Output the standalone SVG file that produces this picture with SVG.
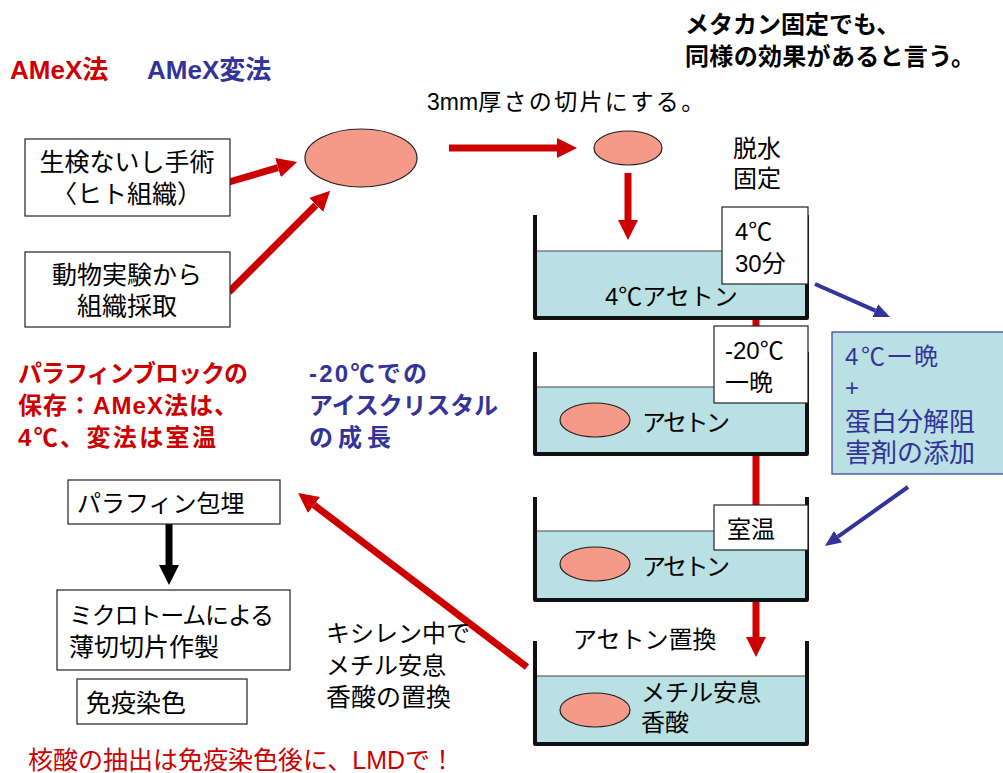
<svg xmlns="http://www.w3.org/2000/svg" width="1003" height="773" viewBox="0 0 1003 773">
<defs>
<style>
text{font-family:"Liberation Sans","Noto Sans CJK JP",sans-serif;font-size:24px;fill:#000}
.b{font-weight:bold}
.red{fill:#cc0000}
.blue{fill:#333399}
.box{fill:#fff;stroke:#222;stroke-width:1.2}
.fill{fill:#b9e0e3;stroke:#444;stroke-width:1}
.wall{fill:none;stroke:#111;stroke-width:4;stroke-linejoin:round}
.tissue{fill:#f59a88;stroke:#222;stroke-width:1.2}
.ra{stroke:#cc0000;stroke-width:7;fill:none;marker-end:url(#rh)}
.ka{stroke:#000;stroke-width:7;fill:none;marker-end:url(#kh)}
.ba{stroke:#333399;stroke-width:4;fill:none;marker-end:url(#bh)}
</style>
<marker id="rh" viewBox="0 0 20 20" refX="0" refY="10" markerWidth="20" markerHeight="20" markerUnits="userSpaceOnUse" orient="auto"><path d="M0,0 L20,10 L0,20 z" fill="#cc0000"/></marker>
<marker id="kh" viewBox="0 0 20 20" refX="0" refY="10" markerWidth="20" markerHeight="20" markerUnits="userSpaceOnUse" orient="auto"><path d="M0,0 L20,10 L0,20 z" fill="#000"/></marker>
<marker id="bh" viewBox="0 0 16 14" refX="0" refY="7" markerWidth="16" markerHeight="14" markerUnits="userSpaceOnUse" orient="auto"><path d="M0,0 L16,7 L0,14 z" fill="#333399"/></marker>
</defs>
<rect width="1003" height="773" fill="#fff"/>

<g id="connectors">
<line class="ra" x1="229" y1="182" x2="278" y2="167.6"/>
<line class="ra" x1="229" y1="292" x2="316" y2="205"/>
<line class="ra" x1="449" y1="148" x2="557" y2="148"/>
<line class="ra" x1="628" y1="173" x2="628" y2="220"/>
<line class="ra" x1="756" y1="318" x2="756" y2="637"/>
<line class="ra" x1="527" y1="667" x2="314" y2="505"/>
<line class="ka" x1="169" y1="524" x2="169" y2="565"/>
<line class="ba" x1="815" y1="284" x2="875.3" y2="310.6"/>
<line class="ba" x1="908" y1="487" x2="838" y2="536.7"/>
</g>

<g id="titles">
<text class="b red" x="10" y="79" style="font-size:26px">AMeX法</text>
<text class="b blue" x="147" y="79" style="font-size:26px">AMeX変法</text>
<text class="b" x="685" y="33">メタカン固定でも、</text>
<text class="b" x="685" y="65" textLength="290">同様の効果があると言う。</text>
<text x="427" y="110" style="font-size:23px">3mm<tspan textLength="226">厚さの切片にする。</tspan></text>
<text x="733" y="157">脱水</text>
<text x="733" y="187">固定</text>
</g>

<g id="biopsy">
<rect class="box" x="25" y="139" width="205" height="77"/>
<text x="127" y="171" text-anchor="middle" style="font-size:25px">生検ないし手術</text>
<text x="127" y="203" text-anchor="middle" style="font-size:25px">〈ヒト組織）</text>
</g>

<g id="animal">
<rect class="box" x="25" y="252" width="205" height="75"/>
<text x="127" y="284" text-anchor="middle" style="font-size:25px">動物実験から</text>
<text x="127" y="315" text-anchor="middle" style="font-size:25px">組織採取</text>
</g>

<g id="tissue1"><ellipse class="tissue" cx="361" cy="158" rx="56" ry="29"/></g>
<g id="tissue2"><ellipse class="tissue" cx="628" cy="148" rx="34" ry="17"/></g>

<g id="beaker1">
<rect class="fill" x="535" y="251" width="272" height="67"/>
<path class="wall" d="M535,215 V318 H807 V215"/>
<text x="605" y="305">4℃アセトン</text>
<rect class="box" x="722" y="207" width="86" height="77"/>
<text x="735" y="240">4℃</text>
<text x="735" y="272">30分</text>
</g>

<g id="beaker2">
<rect class="fill" x="535" y="387" width="272" height="67"/>
<path class="wall" d="M535,352 V454 H807 V352"/>
<ellipse class="tissue" cx="595" cy="420" rx="35" ry="17"/>
<text x="642" y="431" textLength="88">アセトン</text>
<rect class="box" x="714" y="326" width="94" height="77"/>
<text x="725" y="359">-20℃</text>
<text x="725" y="391">一晩</text>
</g>

<g id="beaker3">
<rect class="fill" x="535" y="531" width="272" height="69"/>
<path class="wall" d="M535,497 V600 H807 V497"/>
<ellipse class="tissue" cx="595" cy="564" rx="35" ry="17"/>
<text x="642" y="575" textLength="88">アセトン</text>
<rect class="box" x="714" y="505" width="94" height="45"/>
<text x="727" y="538">室温</text>
</g>

<g id="beaker4">
<text x="573" y="648">アセトン置換</text>
<rect class="fill" x="535" y="676" width="272" height="68"/>
<path class="wall" d="M535,641 V744 H807 V641"/>
<ellipse class="tissue" cx="595" cy="710" rx="35" ry="17"/>
<text x="641" y="701">メチル安息</text>
<text x="641" y="731">香酸</text>
</g>

<g id="variant">
<rect x="832" y="332" width="180" height="142" fill="#b9e0e3" stroke="#3a3a9a" stroke-width="1.2"/>
<text class="blue" x="845" y="365" textLength="93">4℃一晩</text>
<text class="blue" x="845" y="396">+</text>
<text class="blue" x="845" y="431" style="font-size:26px">蛋白分解阻</text>
<text class="blue" x="845" y="462" style="font-size:26px">害剤の添加</text>
</g>

<g id="notes">
<text class="b red" x="18" y="382" textLength="230">パラフィンブロックの</text>
<text class="b red" x="18" y="414" textLength="220">保存：AMeX法は、</text>
<text class="b red" x="18" y="446" textLength="198">4℃、変法は室温</text>
<text class="b blue" x="309" y="382" textLength="118">-20℃での</text>
<text class="b blue" x="309" y="414" textLength="189">アイスクリスタル</text>
<text class="b blue" x="309" y="446" textLength="82">の成長</text>
<text x="326" y="642">キシレン中で</text>
<text x="326" y="674">メチル安息</text>
<text x="326" y="706" style="font-size:25px">香酸の置換</text>
</g>

<g id="embed">
<rect class="box" x="68" y="480" width="212" height="44"/>
<text x="77" y="512">パラフィン包埋</text>
</g>

<g id="section">
<rect class="box" x="57" y="590" width="233" height="80"/>
<text x="69" y="624" textLength="205">ミクロトームによる</text>
<text x="69" y="656" style="font-size:25px">薄切切片作製</text>
</g>

<g id="stain">
<rect class="box" x="77" y="679" width="170" height="45"/>
<text x="86" y="712" style="font-size:25px">免疫染色</text>
</g>

<text class="red" x="28" y="769" style="font-size:25px">核酸の抽出は免疫染色後に、LMDで！</text>
</svg>
